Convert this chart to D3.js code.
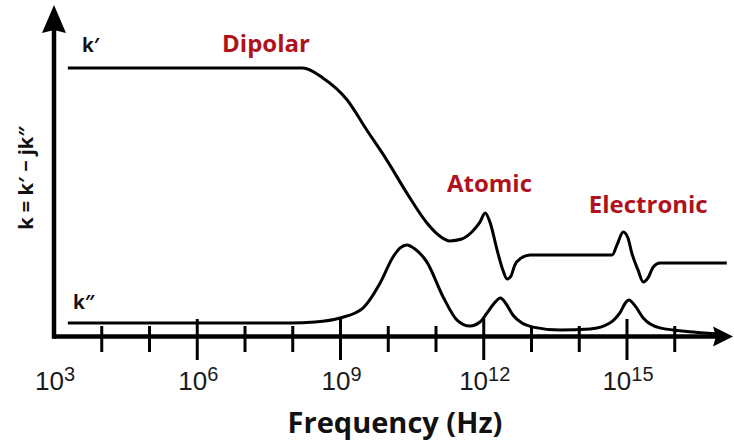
<!DOCTYPE html>
<html>
<head>
<meta charset="utf-8">
<script src="https://cdn.jsdelivr.net/npm/d3@7"></script>
<style>
  body { margin: 0; background: #fff; }
  svg { display: block; }
</style>
</head>
<body>
<div id="chart"></div>
<script>
// decade exponents of the frequency (Hz) and relative k values
const kPrimeExp = [3.29, 8.21, 8.63, 9.14, 9.55, 9.97, 10.39, 10.81, 11.08, 11.29, 11.54, 11.75, 11.92, 12.03, 12.13, 12.28, 12.40, 12.49, 12.57, 12.65, 12.78, 12.97, 14.69, 14.79, 14.92, 15.02, 15.10, 15.23, 15.34, 15.44, 15.55, 15.69, 17.09];
const kPrimeVal = [100, 100, 96.3, 88.1, 76.9, 65.7, 53.4, 42.3, 37.4, 35.6, 36.3, 38.9, 42.6, 46.0, 42.6, 32.2, 24.8, 21.4, 22.5, 26.6, 29.2, 30.4, 30.4, 34.1, 38.9, 36.7, 31.1, 24.8, 20.3, 21.8, 25.9, 27.4, 27.4];

const kDoubleExp = [3.29, 7.94, 8.47, 8.99, 9.47, 9.83, 10.10, 10.25, 10.39, 10.56, 10.81, 11.15, 11.44, 11.71, 11.92, 12.07, 12.24, 12.35, 12.47, 12.61, 12.80, 13.03, 13.60, 14.23, 14.64, 14.85, 14.98, 15.04, 15.17, 15.34, 15.69, 16.38, 16.95];
const kDoubleVal = [5.0, 5.0, 5.4, 6.9, 10.6, 19.9, 29.6, 33.0, 34.1, 32.6, 27.7, 14.7, 6.1, 3.9, 5.4, 8.8, 12.8, 14.3, 12.1, 8.0, 5.0, 3.5, 2.4, 2.8, 5.0, 8.8, 12.8, 13.6, 11.4, 6.9, 3.2, 1.7, 0.9];

const tickExps = [4, 5, 6, 7, 8, 9, 10, 11, 12, 13, 14, 15, 16];
const labelExps = [3, 6, 9, 12, 15];

const regions = ["Dipolar", "Atomic", "Electronic"];
const regionExp = [6.52, 11.23, 14.2];
const regionVal = [106, 53.8, 46];

const width = 734;
const height = 441;
const x0 = 54;        // y-axis position
const axisY = 336.5;  // x-axis position

const x = d3.scaleLog()
  .domain([1e3, 1e15])
  .range([x0, 627]);

const y = d3.scaleLinear()
  .domain([0, 100])
  .range([axisY, 68]);

const svg = d3.create("svg")
  .attr("width", width)
  .attr("height", height);

svg.append("rect").attr("width", width).attr("height", height).attr("fill", "#fff");

// curves
const line = d3.line()
  .x(d => x(Math.pow(10, d[0])))
  .y(d => y(d[1]))
  .curve(d3.curveMonotoneX);

svg.append("path")
  .datum(d3.zip(kPrimeExp, kPrimeVal))
  .attr("d", line)
  .attr("fill", "none")
  .attr("stroke", "#000")
  .attr("stroke-width", 3);

svg.append("path")
  .datum(d3.zip(kDoubleExp, kDoubleVal))
  .attr("d", line)
  .attr("fill", "none")
  .attr("stroke", "#000")
  .attr("stroke-width", 3);

// ticks
svg.append("g")
  .selectAll("line")
  .data(tickExps)
  .join("line")
  .attr("x1", d => x(Math.pow(10, d)))
  .attr("x2", d => x(Math.pow(10, d)))
  .attr("y1", d => labelExps.includes(d) ? 319 : 326)
  .attr("y2", d => labelExps.includes(d) ? 360 : 352)
  .attr("stroke", "#000")
  .attr("stroke-width", 3);

// axes with arrows
svg.append("line")
  .attr("x1", x0).attr("x2", 716)
  .attr("y1", axisY).attr("y2", axisY)
  .attr("stroke", "#000").attr("stroke-width", 4.5);

svg.append("line")
  .attr("x1", x0).attr("x2", x0)
  .attr("y1", axisY + 2.25).attr("y2", 30)
  .attr("stroke", "#000").attr("stroke-width", 4.5);

svg.append("path")
  .attr("d", `M${x0},5 L${x0 + 12},33 L${x0},30 L${x0 - 12},33 Z`)
  .attr("fill", "#000");

svg.append("path")
  .attr("d", `M733,${axisY} L713,${axisY - 10} L716,${axisY} L713,${axisY + 10} Z`)
  .attr("fill", "#000");

// tick labels 10^n
const lbl = svg.append("g")
  .attr("font-family", "'Liberation Sans', Arial, sans-serif")
  .attr("fill", "#1a1a1a")
  .selectAll("text")
  .data(labelExps)
  .join("text")
  .attr("x", d => x(Math.pow(10, d)) + 1)
  .attr("y", 390)
  .attr("text-anchor", "middle");

lbl.append("tspan").attr("font-size", 26).text("10");
lbl.append("tspan").attr("font-size", 20).attr("dy", -9).text(d => d);

// axis titles
svg.append("text")
  .attr("x", 395)
  .attr("y", 433)
  .attr("text-anchor", "middle")
  .attr("font-family", "'Open Sans', sans-serif")
  .attr("font-weight", "bold")
  .attr("font-size", 29)
  .attr("fill", "#111")
  .text("Frequency (Hz)");

svg.append("text")
  .attr("transform", "translate(33,178) rotate(-90)")
  .attr("text-anchor", "middle")
  .attr("font-family", "'Open Sans', sans-serif")
  .attr("font-weight", "bold")
  .attr("font-size", 20)
  .attr("fill", "#111")
  .text("k = k\u2032 \u2212 jk\u2033");

// curve names
svg.append("text")
  .attr("x", 82).attr("y", 52)
  .attr("font-family", "'Open Sans', sans-serif")
  .attr("font-weight", "bold")
  .attr("font-size", 19)
  .attr("fill", "#111")
  .text("k\u2032");

svg.append("text")
  .attr("x", 73).attr("y", 309)
  .attr("font-family", "'Open Sans', sans-serif")
  .attr("font-weight", "bold")
  .attr("font-size", 19)
  .attr("fill", "#111")
  .text("k\u2033");

// relaxation regions
svg.append("g")
  .selectAll("text")
  .data(regions)
  .join("text")
  .attr("x", (d, i) => x(Math.pow(10, regionExp[i])))
  .attr("y", (d, i) => y(regionVal[i]))
  .attr("font-family", "'Open Sans', sans-serif")
  .attr("font-weight", "bold")
  .attr("font-size", 24)
  .attr("fill", "#b0121b")
  .text(d => d);

document.getElementById("chart").appendChild(svg.node());
</script>
</body>
</html>
